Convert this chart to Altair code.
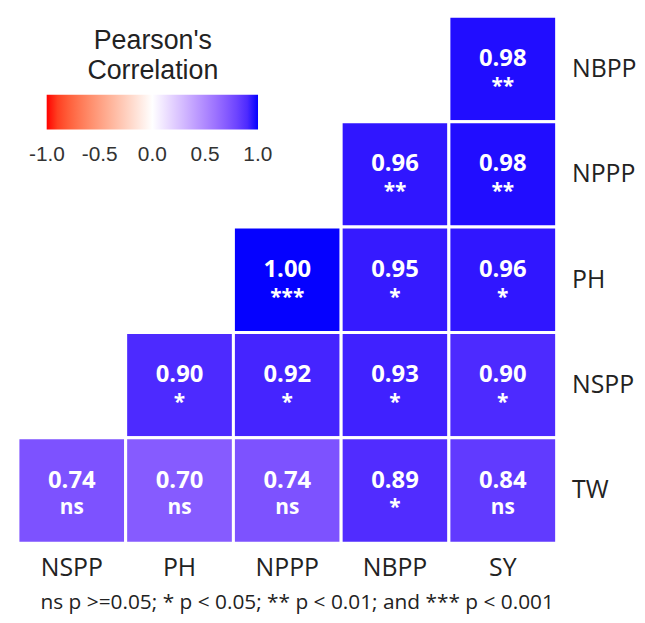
import altair as alt
import pandas as pd

x_order = ["NSPP", "PH", "NPPP", "NBPP", "SY"]
y_order = ["NBPP", "NPPP", "PH", "NSPP", "TW"]

cell_row = ["NBPP", "NPPP", "NPPP", "PH", "PH", "PH",
            "NSPP", "NSPP", "NSPP", "NSPP",
            "TW", "TW", "TW", "TW", "TW"]
cell_col = ["SY", "NBPP", "SY", "NPPP", "NBPP", "SY",
            "PH", "NPPP", "NBPP", "SY",
            "NSPP", "PH", "NPPP", "NBPP", "SY"]
cell_val = [0.98, 0.96, 0.98, 1.00, 0.95, 0.96,
            0.90, 0.92, 0.93, 0.90,
            0.74, 0.70, 0.74, 0.89, 0.84]
cell_sig = ["**", "**", "**", "***", "*", "*",
            "*", "*", "*", "*",
            "ns", "ns", "ns", "*", "ns"]

legend_values = [-1.0, -0.5, 0.0, 0.5, 1.0]
footnote = "ns p >=0.05; * p < 0.05; ** p < 0.01; and *** p < 0.001"

df = pd.DataFrame({"row": cell_row, "col": cell_col, "r": cell_val, "sig": cell_sig})
df["lab"] = df["r"].map(lambda v: f"{v:.2f}")

x_enc = alt.X("col:N", sort=x_order, scale=alt.Scale(domain=x_order),
              axis=alt.Axis(title=None, orient="bottom", labelAngle=0, ticks=False, domain=False,
                            labelFontSize=25, labelFont="Open Sans", labelColor="#222",
                            labelPadding=13))
y_enc = alt.Y("row:N", sort=y_order, scale=alt.Scale(domain=y_order),
              axis=alt.Axis(title=None, orient="right", ticks=False, domain=False,
                            labelFontSize=25, labelFont="Open Sans", labelColor="#222",
                            labelPadding=15, labelAlign="left"))

# domain very slightly widened so the end labels of the gradient are centred
color_scale = alt.Scale(domain=[-1.002, 0, 1.002], range=["#FF0000", "#FFFFFF", "#0000FF"],
                        interpolate="lab")

rects = alt.Chart(df).mark_rect(stroke="white", strokeWidth=3).encode(
    x=x_enc, y=y_enc,
    color=alt.Color("r:Q", scale=color_scale,
                    legend=alt.Legend(
                        title=["Pearson's", "Correlation"],
                        orient="none", legendX=29, legendY=12,
                        direction="horizontal",
                        gradientLength=213, gradientThickness=35,
                        gradientStrokeWidth=0,
                        values=legend_values,
                        labelAlign="center",
                        labelExpr="datum.value < 0 ? '-' + format(-datum.value, '.1f') : format(datum.value, '.1f')",
                        labelFont="Liberation Sans", labelFontSize=21, labelColor="#333",
                        labelOffset=15, labelOverlap=False,
                        titleFont="Liberation Sans", titleFontSize=27, titleFontWeight="normal",
                        titleColor="#222", titleAnchor="middle", titleAlign="center",
                        titleLineHeight=30, titlePadding=10,
                    ))
)

val_text = alt.Chart(df).mark_text(color="white", font="Open Sans", fontWeight="bold",
                                   fontSize=24, dy=-10).encode(
    x=alt.X("col:N", sort=x_order), y=alt.Y("row:N", sort=y_order), text="lab:N")

sig_text = alt.Chart(df).mark_text(color="white", font="Open Sans", fontWeight="bold",
                                   fontSize=21, dy=18).encode(
    x=alt.X("col:N", sort=x_order), y=alt.Y("row:N", sort=y_order), text="sig:N")

chart = alt.layer(rects, val_text, sig_text).properties(
    width=543, height=531,
    padding={"left": 8, "top": 4, "right": 0, "bottom": 0},
    title=alt.TitleParams(footnote, orient="bottom", anchor="middle", frame="group",
                          fontSize=21, font="Open Sans", fontWeight="normal", color="#222",
                          offset=11, dx=10),
).configure_view(stroke=None)

chart.save("out.html", embed_options={"renderer": "svg", "actions": False})
